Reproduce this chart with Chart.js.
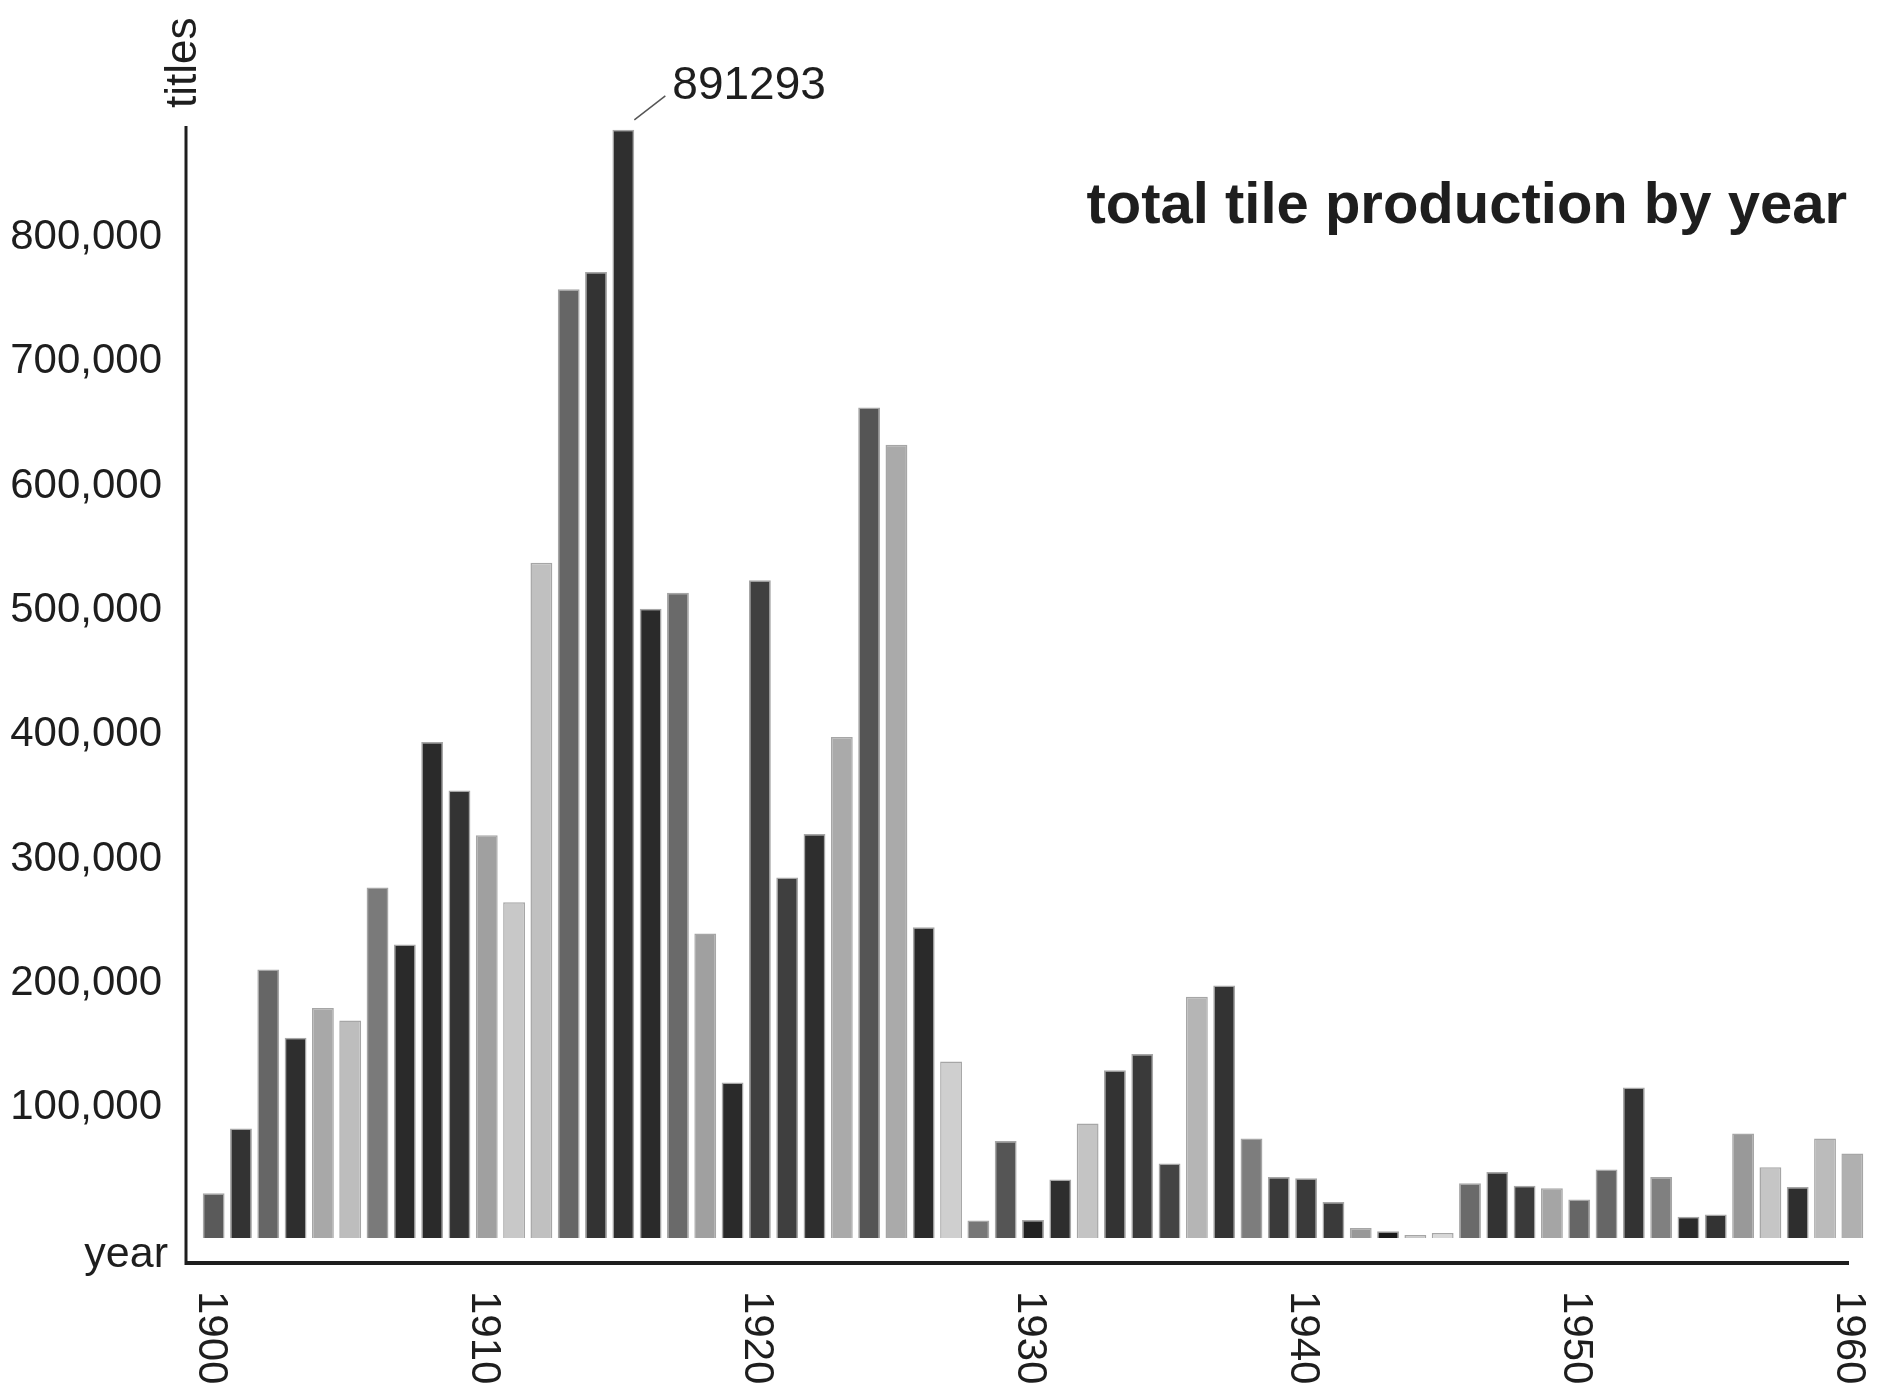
<!DOCTYPE html>
<html>
<head>
<meta charset="utf-8">
<script src="https://cdn.jsdelivr.net/npm/chart.js@4.4.1/dist/chart.umd.min.js"></script>
<style>
  html, body { margin: 0; padding: 0; background: #fff; }
  canvas { display: block; }
</style>
</head>
<body>
<canvas id="tileChart" width="1883" height="1390"></canvas>
<script>
// Data
const years = ['1900','1901','1902','1903','1904','1905','1906','1907','1908','1909',
               '1910','1911','1912','1913','1914','1915','1916','1917','1918','1919',
               '1920','1921','1922','1923','1924','1925','1926','1927','1928','1929',
               '1930','1931','1932','1933','1934','1935','1936','1937','1938','1939',
               '1940','1941','1942','1943','1944','1945','1946','1947','1948','1949',
               '1950','1951','1952','1953','1954','1955','1956','1957','1958','1959',
               '1960'];
const titles = [36000, 88000, 216000, 161000, 185000, 175000, 282000, 236000, 399000, 360000,
                324000, 270000, 543000, 763000, 777000, 891293, 506000, 519000, 245000, 125000,
                529000, 290000, 325000, 403000, 668000, 638000, 250000, 142000, 14000, 78000,
                14500, 47000, 92000, 135000, 148000, 60000, 194000, 203000, 80000, 49000,
                48000, 29000, 8000, 5500, 2500, 4000, 44000, 53000, 42000, 40000,
                31000, 55000, 121000, 49000, 17000, 19000, 84000, 57000, 41000, 80000,
                68000];
const yearTicks = ['1900','1910','1920','1930','1940','1950','1960'];
const valueTicks = [100000, 200000, 300000, 400000, 500000, 600000, 700000, 800000];

// grey shade of each bar
const shades = ['#5a5a5a','#333333','#666666','#2e2e2e','#a8a8a8','#bdbdbd','#7a7a7a','#2a2a2a','#2a2a2a','#333333',
                '#a0a0a0','#c8c8c8','#c0c0c0','#666666','#333333','#2f2f2f','#2a2a2a','#6a6a6a','#a0a0a0','#2a2a2a',
                '#404040','#3f3f3f','#2e2e2e','#aaaaaa','#555555','#aaaaaa','#2a2a2a','#cfcfcf','#777777','#555555',
                '#222222','#2e2e2e','#c4c4c4','#333333','#3a3a3a','#444444','#b5b5b5','#333333','#7d7d7d','#3a3a3a',
                '#3a3a3a','#3a3a3a','#999999','#1a1a1a','#c8c8c8','#d8d8d8','#6a6a6a','#333333','#3a3a3a','#a5a5a5',
                '#666666','#666666','#333333','#808080','#2a2a2a','#333333','#999999','#c5c5c5','#2e2e2e','#bbbbbb',
                '#b0b0b0'];

const ink = '#1e1e1e';
const font = '"Liberation Sans", Arial, sans-serif';

// axis lines, tick labels, captions
const decorations = {
    id: 'decorations',
    afterDraw(chart) {
        const ctx = chart.ctx;
        const area = chart.chartArea;
        const x = chart.scales.x;
        const y = chart.scales.y;
        ctx.save();
        ctx.fillStyle = ink;
        ctx.strokeStyle = ink;

        // axes, set off from the bars
        ctx.lineWidth = 3;
        ctx.beginPath();
        ctx.moveTo(area.left - 14, area.top + 7);
        ctx.lineTo(area.left - 14, area.bottom + 27);
        ctx.stroke();
        ctx.lineWidth = 4;
        ctx.beginPath();
        ctx.moveTo(area.left - 15, area.bottom + 25);
        ctx.lineTo(area.right - 17, area.bottom + 25);
        ctx.stroke();

        // value labels (sit a little above their value)
        ctx.font = '42px ' + font;
        ctx.textAlign = 'right';
        ctx.textBaseline = 'middle';
        valueTicks.forEach(v => {
            ctx.fillText(v.toLocaleString('en-US'), area.left - 38, y.getPixelForValue(v) - 6);
        });

        // year labels, reading downwards
        ctx.textAlign = 'left';
        ctx.textBaseline = 'alphabetic';
        yearTicks.forEach(label => {
            const px = x.getPixelForValue(years.indexOf(label));
            ctx.save();
            ctx.translate(px - 15, area.bottom + 53);
            ctx.rotate(Math.PI / 2);
            ctx.fillText(label, 0, 0);
            ctx.restore();
        });

        // axis names
        ctx.font = '44px ' + font;
        ctx.save();
        ctx.translate(area.left - 4, 108);
        ctx.rotate(-Math.PI / 2);
        ctx.fillText('titles', 0, 0);
        ctx.restore();
        ctx.textAlign = 'right';
        ctx.font = '43px ' + font;
        ctx.fillText('year', area.left - 32, area.bottom + 29);

        // title
        ctx.font = 'bold 58px ' + font;
        ctx.fillText('total tile production by year', 1847, 223);

        // peak callout
        const peak = titles.indexOf(Math.max(...titles));
        const bar = chart.getDatasetMeta(0).data[peak];
        ctx.strokeStyle = '#555';
        ctx.lineWidth = 1.5;
        ctx.beginPath();
        ctx.moveTo(bar.x + 11, bar.y - 10);
        ctx.lineTo(bar.x + 42, bar.y - 34);
        ctx.stroke();
        ctx.textAlign = 'left';
        ctx.font = '46px ' + font;
        ctx.fillText(String(titles[peak]), bar.x + 49, bar.y - 31);
        ctx.restore();
    }
};

new Chart(document.getElementById('tileChart'), {
    type: 'bar',
    data: {
        labels: years,
        datasets: [{
            data: titles,
            backgroundColor: shades,
            borderColor: 'rgba(0,0,0,0.35)',
            borderWidth: 1.5,
            borderSkipped: 'bottom',
            barPercentage: 0.8,
            categoryPercentage: 1.0
        }]
    },
    options: {
        responsive: false,
        animation: false,
        layout: { padding: { top: 119, right: 17, left: 0, bottom: 0 } },
        plugins: { legend: { display: false }, tooltip: { enabled: false }, title: { display: false } },
        scales: {
            x: {
                grid: { display: false, drawTicks: false },
                border: { display: false },
                ticks: { display: false },
                afterFit: s => { s.height = 152; }
            },
            y: {
                min: 0,
                max: 900000,
                grid: { display: false, drawTicks: false },
                border: { display: false },
                ticks: { display: false, stepSize: 100000 },
                afterFit: s => { s.width = 200; }
            }
        }
    },
    plugins: [decorations]
});
</script>
</body>
</html>
